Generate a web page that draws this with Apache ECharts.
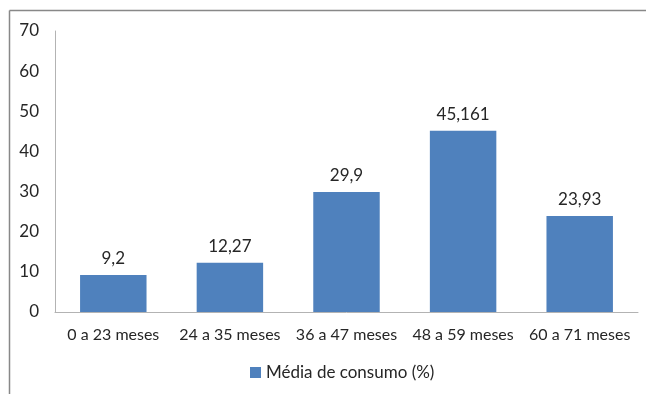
<!DOCTYPE html>
<html>
<head>
<meta charset="utf-8">
<script src="https://cdn.jsdelivr.net/npm/echarts@6/dist/echarts.min.js"></script>
<style>
  html, body { margin: 0; padding: 0; background: #fff; }
  #chart { width: 646px; height: 394px; }
</style>
</head>
<body>
<div id="chart"></div>
<script>
// Age groups and mean consumption values
const categories = ['0 a 23 meses', '24 a 35 meses', '36 a 47 meses', '48 a 59 meses', '60 a 71 meses'];
const consumo = [9.2, 12.27, 29.9, 45.161, 23.93];
const seriesName = 'Média de consumo (%)';

const font = 'Lato, "Open Sans", sans-serif';
const textColor = '#262626';

const chart = echarts.init(document.getElementById('chart'));
chart.setOption({
  animation: false,
  grid: { left: 55, right: 8, top: 31, bottom: 82 },
  legend: {
    data: [seriesName],
    bottom: 8,
    left: 245,
    itemWidth: 11,
    itemHeight: 11,
    itemGap: 4,
    icon: 'rect',
    textStyle: { fontFamily: font, fontSize: 17, color: textColor }
  },
  xAxis: {
    type: 'category',
    data: categories,
    axisLine: { lineStyle: { color: '#b3b3b3', width: 1 } },
    axisTick: { show: false },
    axisLabel: { fontFamily: font, fontSize: 16, color: textColor, margin: 15, interval: 0 }
  },
  yAxis: {
    type: 'value',
    min: 0,
    max: 70,
    interval: 10,
    axisLine: { show: true, lineStyle: { color: '#b3b3b3', width: 1 } },
    axisTick: { show: false },
    splitLine: { show: false },
    axisLabel: { fontFamily: font, fontSize: 17, color: textColor, margin: 16 }
  },
  series: [{
    name: seriesName,
    type: 'bar',
    data: consumo,
    barWidth: '57%',
    itemStyle: { color: '#4f81bd' },
    label: {
      show: true,
      position: 'top',
      distance: 8,
      fontFamily: font,
      fontSize: 17,
      color: textColor,
      formatter: p => String(p.value).replace('.', ',')
    }
  }],
  graphic: [
    { type: 'line', shape: { x1: 9.5, y1: 10.5, x2: 646, y2: 10.5 }, style: { stroke: '#888', lineWidth: 1.5 } },
    { type: 'line', shape: { x1: 9.5, y1: 10.5, x2: 9.5, y2: 394 }, style: { stroke: '#888', lineWidth: 1.5 } }
  ]
});
</script>
</body>
</html>
